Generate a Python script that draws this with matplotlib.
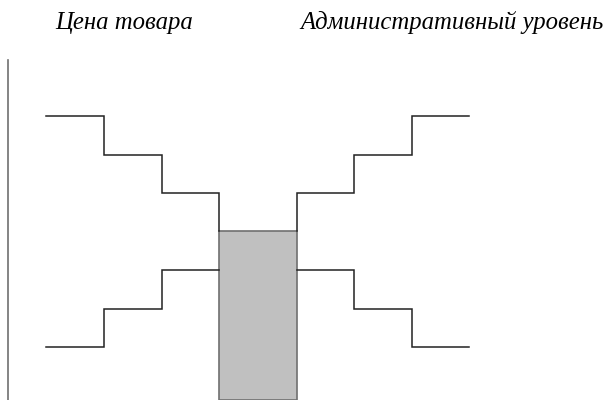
import matplotlib.pyplot as plt

# step diagram in pixel-like units (y grows downwards)
leftEdges = [46, 104, 162, 219]
rightEdges = [297, 354, 412, 469]
upperLevels = [116, 155, 193, 231]
lowerLevels = [347, 309, 270]
barLeft = 219
barRight = 297
barTop = 231
barBottom = 400
axisX = 8
axisTop = 60

titleLeft = 'Цена товара'
titleRight = 'Административный уровень'


def stairs(edges, levels):
    """Builds the corner points of a staircase"""
    xs, ys = [], []
    for i, lvl in enumerate(levels):
        xs += [edges[i], edges[i + 1]]
        ys += [lvl, lvl]
    return xs, ys


fig = plt.figure(figsize=(6.11, 4.0), dpi=100)
ax = fig.add_axes([0, 0, 1, 1])
ax.set_xlim(0, 611)
ax.set_ylim(400, 0)
ax.axis('off')

lineStyle = dict(color='#222222', linewidth=1.1, solid_joinstyle='miter')

# upper left: descending towards the bar
xs, ys = stairs(leftEdges, upperLevels[:3])
xs.append(leftEdges[3])
ys.append(upperLevels[3])
ax.plot(xs, ys, **lineStyle)

# upper right: mirror
xs, ys = stairs(rightEdges, upperLevels[:3][::-1])
xs.insert(0, rightEdges[0])
ys.insert(0, upperLevels[3])
ax.plot(xs, ys, **lineStyle)

# lower left: rising towards the bar
xs, ys = stairs(leftEdges, lowerLevels)
ax.plot(xs, ys, **lineStyle)

# lower right: mirror
xs, ys = stairs(rightEdges, lowerLevels[::-1])
ax.plot(xs, ys, **lineStyle)

# grey bar in the middle
ax.add_patch(plt.Rectangle((barLeft, barTop), barRight - barLeft, barBottom - barTop,
                           facecolor='#c0c0c0', edgecolor='#707070', linewidth=1.2))

# vertical axis line
ax.plot([axisX, axisX], [axisTop, 400], color='#707070', linewidth=1.2)

textStyle = dict(fontfamily='Liberation Serif', fontstyle='italic', fontsize=17.8,
                 va='baseline', color='black')
ax.text(55, 29, titleLeft, ha='left', **textStyle)
ax.text(300, 29, titleRight, ha='left', **textStyle)

plt.savefig('out.png', dpi=100)
plt.close()
